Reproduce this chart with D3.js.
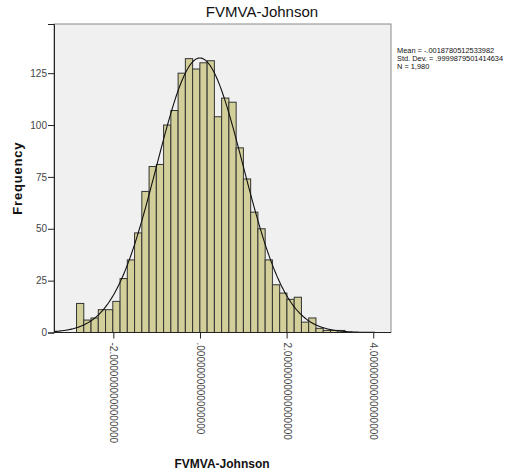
<!DOCTYPE html>
<meta charset="utf-8">
<style>

body {
  margin: 0;
  background-color: white;
  font-family: Arial, "Liberation Sans", sans-serif;
}

.tick-label {
  font-size: 10px;
  fill: #444;
}

</style>
<body>
<div id="chart1"></div>

<script src="https://d3js.org/d3.v7.min.js"></script>
<script>

// histogram counts, one per bin
var counts = [14, 6, 7, 11, 11, 15, 26, 35, 48, 68, 80, 81,
              100, 107, 125, 132, 127, 130, 131, 104, 113, 111, 89, 74, 58, 50,
              35, 23, 19, 16, 17, 5, 7, 2, 1, 1, 1];
var binStart = -2.85;
var binWidth = 0.1675;

var xTicks = [-2, 0, 2, 4];
var xTickLabels = ["-2.0000000000000000", ".0000000000000000", "2.0000000000000000", "4.0000000000000000"];
var yTicks = [0, 25, 50, 75, 100, 125];

var mean = -0.0018780512533982;
var stdDev = 0.9999879501414634;
var n = 1980;
var statLines = ["Mean = -.0018780512533982", "Std. Dev. = .9999879501414634", "N = 1,980"];

drawChart();

function drawChart(){
	var W = 513, H = 472;
	var plot = {left: 54, right: 391, top: 24, bottom: 332.5};

	var svg = d3.select("#chart1").append("svg")
		.attr("width", W)
		.attr("height", H);

	var x = d3.scaleLinear().domain([-3.37, 4.41]).range([plot.left, plot.right]);
	var y = d3.scaleLinear().domain([0, 148.7]).range([plot.bottom, plot.top]);

	// plot frame
	svg.append("rect")
		.attr("x", plot.left)
		.attr("y", plot.top)
		.attr("width", plot.right - plot.left)
		.attr("height", plot.bottom - plot.top)
		.style("fill", "#f0f0f0")
		.style("stroke", "#8a8a8a")
		.style("stroke-width", 1);

	// bars
	svg.append("g").selectAll("rect")
		.data(counts)
		.enter().append("rect")
		.attr("x", function(d, i){ return x(binStart + i * binWidth); })
		.attr("y", function(d){ return y(d); })
		.attr("width", function(d, i){ return x(binStart + (i + 1) * binWidth) - x(binStart + i * binWidth); })
		.attr("height", function(d){ return y(0) - y(d); })
		.style("fill", "#d3cf9a")
		.style("stroke", "#333")
		.style("stroke-width", 1);

	// normal curve
	var curveXs = d3.range(-3.37, 4.41, 0.02);
	var normal = d3.line()
		.x(function(d){ return x(d); })
		.y(function(d){
			var z = (d - mean) / stdDev;
			return y(n * binWidth * Math.exp(-0.5 * z * z) / (stdDev * Math.sqrt(2 * Math.PI)));
		});
	svg.append("path")
		.datum(curveXs)
		.attr("d", normal)
		.style("fill", "none")
		.style("stroke", "#111")
		.style("stroke-width", 1.1);

	// y axis
	var yAxis = svg.append("g")
		.attr("transform", "translate(" + plot.left + ",0)")
		.call(d3.axisLeft(y).tickValues(yTicks).tickSize(6).tickPadding(1));
	yAxis.select(".domain").style("stroke", "#222");
	yAxis.selectAll("line").style("stroke", "#222");
	yAxis.selectAll("text").attr("class", "tick-label").style("font-family", "Arial, 'Liberation Sans', sans-serif");

	// x axis
	var xAxis = svg.append("g")
		.attr("transform", "translate(0," + plot.bottom + ")")
		.call(d3.axisBottom(x).tickValues(xTicks).tickSize(6).tickFormat(function(d, i){ return xTickLabels[i]; }));
	xAxis.select(".domain").attr("d", "M" + plot.left + ",0H" + plot.right).style("stroke", "#222");
	xAxis.selectAll("line").style("stroke", "#222");
	xAxis.selectAll("text")
		.attr("class", "tick-label")
		.style("font-family", "Arial, 'Liberation Sans', sans-serif")
		.attr("text-anchor", "start")
		.attr("transform", "translate(0,10) rotate(90)")
		.attr("x", 0)
		.attr("y", 0)
		.attr("dy", "0.35em");

	// titles
	svg.append("text")
		.attr("x", 262)
		.attr("y", 17)
		.attr("text-anchor", "middle")
		.style("font-size", "15px")
		.style("fill", "#111")
		.text("FVMVA-Johnson");

	svg.append("text")
		.attr("x", 222)
		.attr("y", 468)
		.attr("text-anchor", "middle")
		.style("font-size", "12px")
		.style("font-weight", "bold")
		.style("fill", "#111")
		.text("FVMVA-Johnson");

	svg.append("text")
		.attr("transform", "translate(22," + ((plot.top + plot.bottom) / 2) + ") rotate(-90)")
		.attr("text-anchor", "middle")
		.style("font-size", "13px")
		.style("font-weight", "bold")
		.style("letter-spacing", "0.8px")
		.style("fill", "#111")
		.text("Frequency");

	// stats box text
	svg.append("g").selectAll("text")
		.data(statLines)
		.enter().append("text")
		.attr("x", 397)
		.attr("y", function(d, i){ return 52.5 + i * 8; })
		.style("font-size", "7.4px")
		.style("fill", "#111")
		.text(function(d){ return d; });
}

</script>
